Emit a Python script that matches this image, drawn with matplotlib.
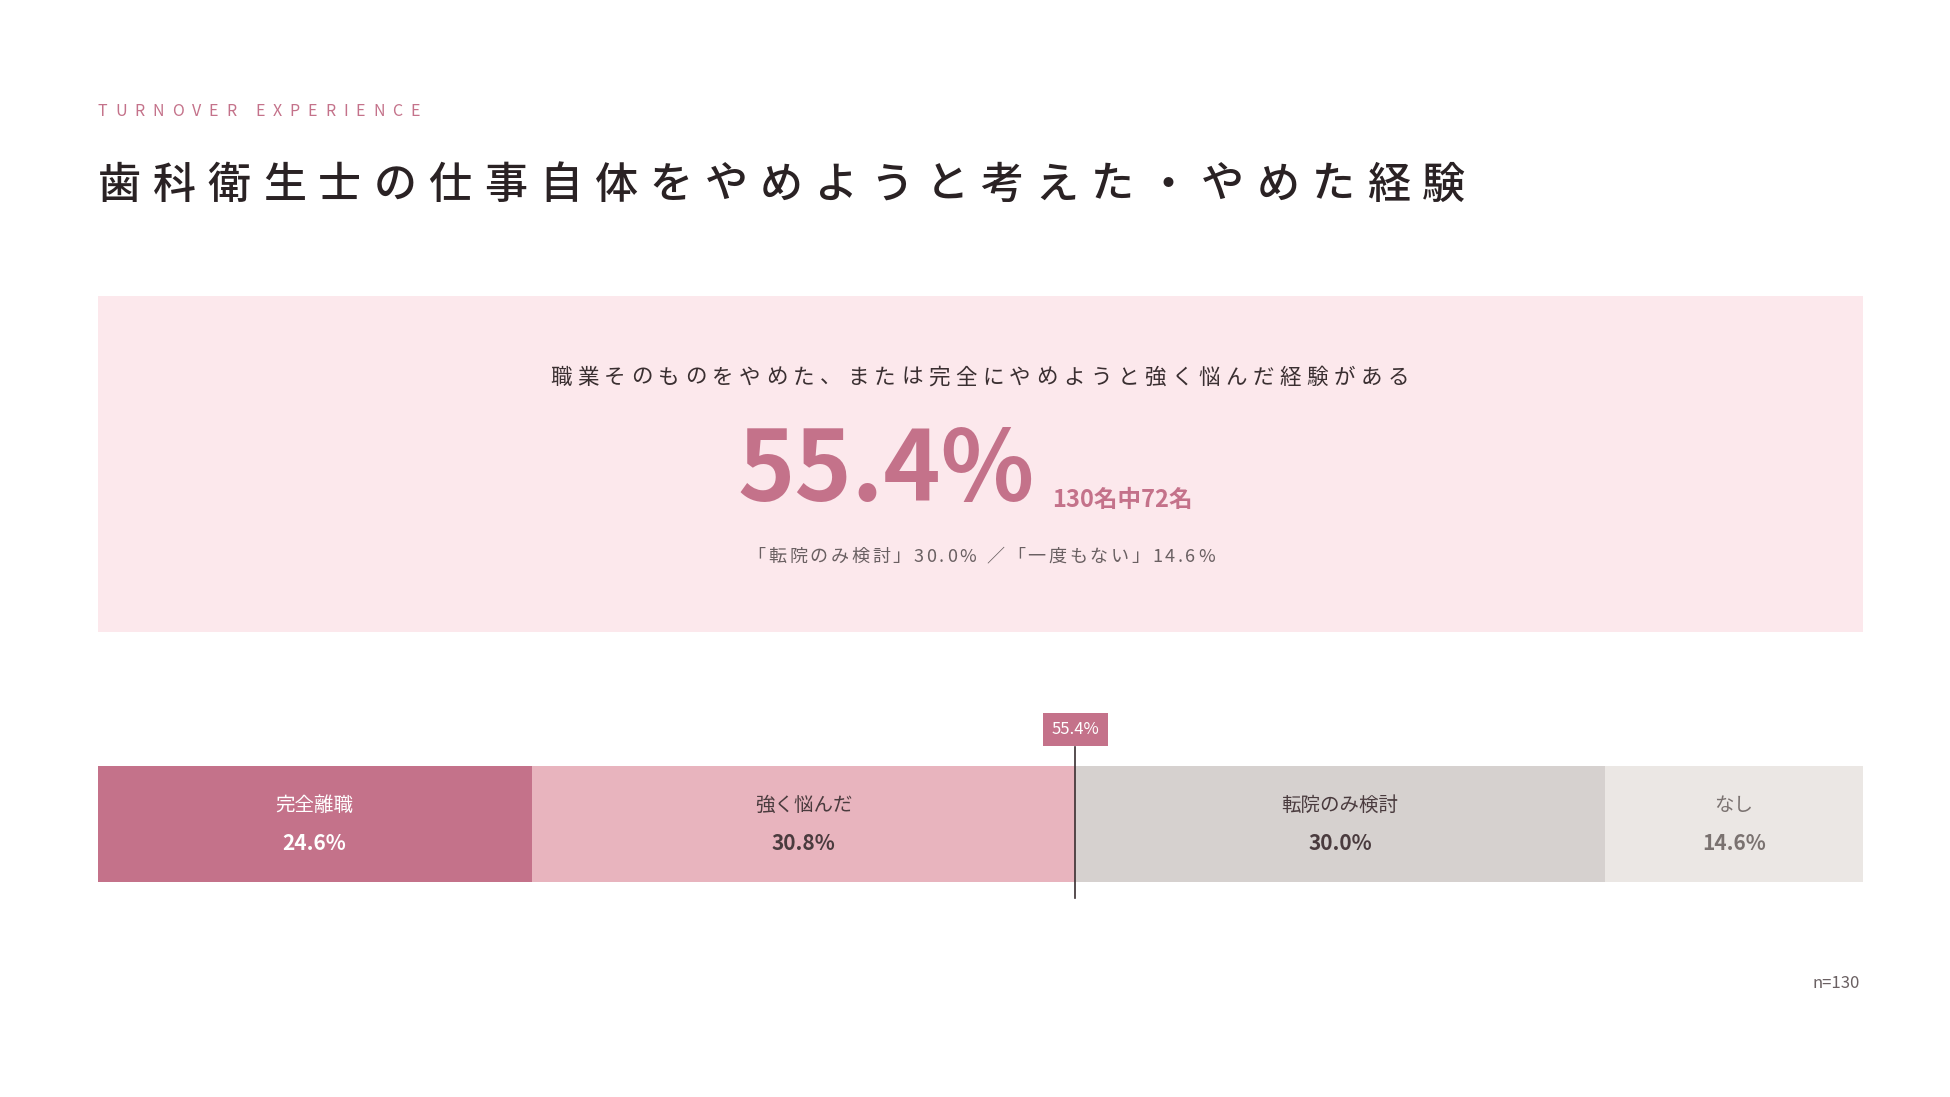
import matplotlib
matplotlib.use("Agg")
import matplotlib.pyplot as plt
from matplotlib.patches import Rectangle

plt.rcParams['font.family'] = ['Noto Sans CJK JP', 'DejaVu Sans']

categories = ["完全離職", "強く悩んだ", "転院のみ検討", "なし"]
values = [24.6, 30.8, 30.0, 14.6]
colors = ["#c4728a", "#e8b4be", "#d6d1cf", "#ebe7e4"]
name_colors = ["#ffffff", "#4a3b3e", "#4a3b3e", "#7a7270"]
pct_colors = ["#ffffff", "#4a3b3e", "#4a3b3e", "#7a7270"]
marker_value = 55.4
headline = "55.4%"
headline_sub = "130名中72名"

W, H = 1560, 877
def fx(x): return x / W
def fy(y): return 1 - y / H

fig = plt.figure(figsize=(19.5, 10.97), dpi=100)
fig.patch.set_facecolor("white")
renderer = fig.canvas.get_renderer()
FW = fig.bbox.width

def spaced(x0, x1, y, s, **kw):
    """Place characters with spacing so the string spans x0..x1 (display coords)."""
    widths = []
    for ch in s:
        t = fig.text(0, 0, ch, **kw)
        widths.append(t.get_window_extent(renderer).width / FW)
        t.remove()
    total = sum(widths)
    gap = (fx(x1) - fx(x0) - total) / max(len(s) - 1, 1)
    x = fx(x0)
    for ch, w in zip(s, widths):
        fig.text(x, y, ch, ha="left", va="center", **kw)
        x += w + gap

spaced(78, 336, fy(89), "TURNOVER EXPERIENCE", color="#c4728a", fontsize=11.5)
spaced(78, 1172, fy(148), "歯科衛生士の仕事自体をやめようと考えた・やめた経験",
       color="#2a2224", fontsize=31, fontweight="medium")

fig.patches.append(Rectangle((fx(78), fy(505)), fx(1490) - fx(78), fy(237) - fy(505),
                             transform=fig.transFigure, facecolor="#fce8ec", edgecolor="none", zorder=0))
spaced(440, 1127, fy(302), "職業そのものをやめた、または完全にやめようと強く悩んだ経験がある",
       color="#3a2f31", fontsize=15.5)
fig.text(fx(828), fy(378), headline, color="#c4728a", fontsize=70, fontweight="bold",
         ha="right", va="center")
fig.text(fx(842), fy(400), headline_sub, color="#c4728a", fontsize=17, fontweight="bold",
         ha="left", va="center")
spaced(598, 972, fy(445), "「転院のみ検討」30.0% ／「一度もない」14.6%", color="#6a6062",
       fontsize=13)

ax = fig.add_axes([fx(78), fy(705), fx(1490) - fx(78), fy(612) - fy(705)])
ax.set_xlim(0, 100)
ax.set_ylim(0, 1)
ax.axis("off")
left = 0
for c, v, col, nc, pc in zip(categories, values, colors, name_colors, pct_colors):
    ax.barh(0.5, v, left=left, height=1, color=col, edgecolor="none")
    mid = left + v / 2
    ax.text(mid, 0.66, c, ha="center", va="center", fontsize=14, color=nc)
    ax.text(mid, 0.33, f"{v:.1f}%", ha="center", va="center", fontsize=15,
            fontweight="bold", color=pc)
    left += v

ax.plot([marker_value, marker_value], [-0.14, 1.16], color="#3a2f31", lw=1.2, clip_on=False)
ax.text(marker_value, 1.31, f"{marker_value}%", ha="center", va="center", fontsize=12,
        color="white", clip_on=False,
        bbox=dict(boxstyle="square,pad=0.5", facecolor="#c4728a", edgecolor="none"))

fig.text(fx(1488), fy(786), "n=130", color="#6a6062", fontsize=12, ha="right", va="center")

fig.savefig("out.png", dpi=100, facecolor="white")
